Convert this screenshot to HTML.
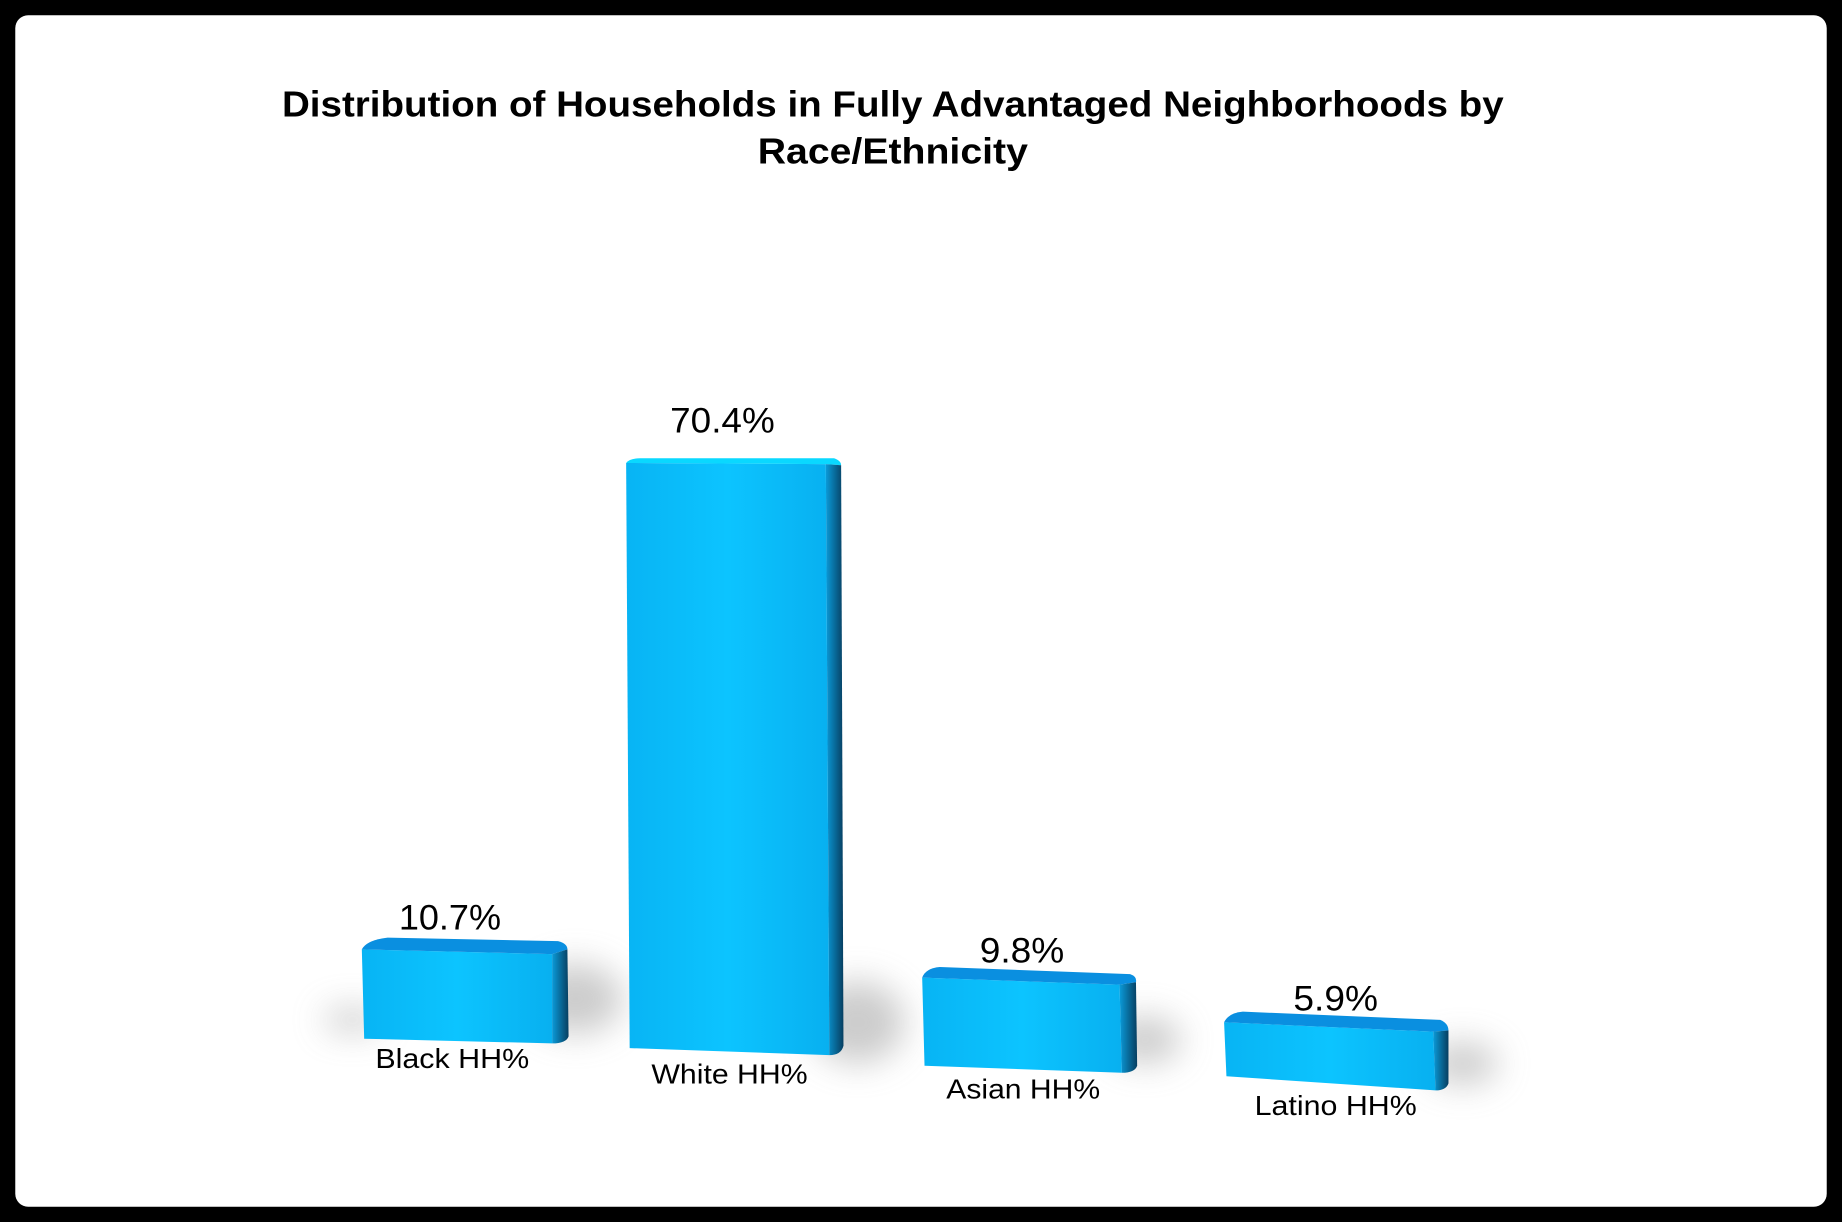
<!DOCTYPE html>
<html><head><meta charset="utf-8"><style>
html,body{margin:0;padding:0;background:#000;}
svg{display:block;}
</style></head><body>
<svg width="1842" height="1222" viewBox="0 0 1568 1040" preserveAspectRatio="none" xmlns="http://www.w3.org/2000/svg">
<defs>
<linearGradient id="side" x1="0" x2="1" y1="0" y2="0"><stop offset="0" stop-color="#0a9ad8"/><stop offset="1" stop-color="#073e60"/></linearGradient>
<linearGradient id="front" x1="0" x2="1" y1="0" y2="0"><stop offset="0" stop-color="#08b4f4"/><stop offset="0.5" stop-color="#0cc4ff"/><stop offset="1" stop-color="#08b0f0"/></linearGradient>
<filter id="blur" x="-50%" y="-50%" width="200%" height="200%"><feGaussianBlur stdDeviation="14"/></filter>
</defs>
<rect x="13" y="13" width="1542" height="1014" rx="11" fill="#fff"/>
<g font-family="Liberation Sans, Arial, sans-serif" text-anchor="middle">
<text x="760" y="99" font-size="31" font-weight="bold" fill="#000" textLength="1040" lengthAdjust="spacingAndGlyphs">Distribution of Households in Fully Advantaged Neighborhoods by</text>
<text x="760" y="139" font-size="31" font-weight="bold" fill="#000" textLength="230" lengthAdjust="spacingAndGlyphs">Race/Ethnicity</text>
</g>
<g filter="url(#blur)" fill="#aaa" opacity="0.6">
<ellipse cx="490" cy="850" rx="40" ry="30"/>
<ellipse cx="730" cy="870" rx="40" ry="35"/>
<ellipse cx="975" cy="885" rx="30" ry="20"/>
<ellipse cx="1245" cy="905" rx="30" ry="18"/>
<ellipse cx="300" cy="868" rx="25" ry="10"/>
</g>
<path d="M308 808 L470 812 L470 888 L310 884 Z" fill="url(#front)"/>
<path d="M308 808 Q312 800 330 798 L475 801 Q483 803 483 808 L470 812 Z" fill="#0a8fe0"/>
<path d="M470 812 L483 808 L484 882 Q482 888 470 888 Z" fill="url(#side)"/>
<path d="M533 394 L703 395 L706 898 L536 892 Z" fill="url(#front)"/>
<path d="M533 394 Q536 390 545 390 L710 390 Q716 392 716 396 L703 395 Z" fill="#0ad8ff"/>
<path d="M703 395 L716 396 L718 890 Q716 898 706 898 Z" fill="url(#side)"/>
<path d="M785 832 L953 838 L955 913 L787 907 Z" fill="url(#front)"/>
<path d="M785 832 Q788 824 800 823 L962 829 Q968 831 967 836 L953 838 Z" fill="#0a8fe0"/>
<path d="M953 838 L967 836 L968 907 Q966 913 955 913 Z" fill="url(#side)"/>
<path d="M1042 870 L1220 878 L1222 928 L1044 916 Z" fill="url(#front)"/>
<path d="M1042 870 Q1046 862 1058 861 L1226 868 Q1233 871 1233 877 L1220 878 Z" fill="#0a8fe0"/>
<path d="M1220 878 L1233 877 L1233 922 Q1231 928 1222 928 Z" fill="url(#side)"/>
<g font-family="Liberation Sans, Arial, sans-serif" text-anchor="middle" fill="#000">
<text x="383" y="791" font-size="30" textLength="87" lengthAdjust="spacingAndGlyphs">10.7%</text>
<text x="615" y="368" font-size="30" textLength="89" lengthAdjust="spacingAndGlyphs">70.4%</text>
<text x="870" y="819" font-size="30" textLength="72" lengthAdjust="spacingAndGlyphs">9.8%</text>
<text x="1137" y="860" font-size="30" textLength="72" lengthAdjust="spacingAndGlyphs">5.9%</text>
<text x="385" y="909" font-size="24" textLength="131" lengthAdjust="spacingAndGlyphs">Black HH%</text>
<text x="621" y="922" font-size="24" textLength="133" lengthAdjust="spacingAndGlyphs">White HH%</text>
<text x="871" y="935" font-size="24" textLength="131" lengthAdjust="spacingAndGlyphs">Asian HH%</text>
<text x="1137" y="949" font-size="24" textLength="138" lengthAdjust="spacingAndGlyphs">Latino HH%</text>
</g>
</svg>
</body></html>
